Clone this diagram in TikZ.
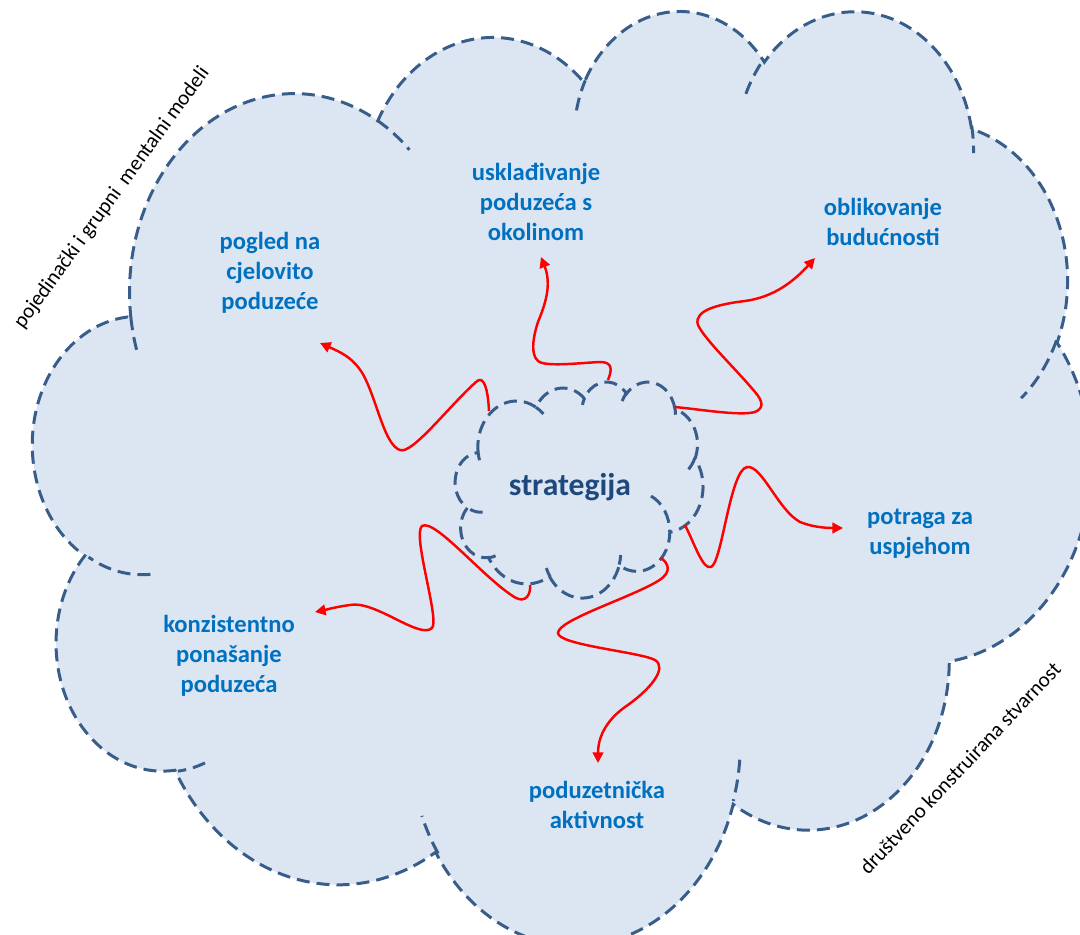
\documentclass[tikz,border=0pt]{standalone}
\usepackage{fontspec}
\setmainfont{Carlito}
\usetikzlibrary{arrows.meta}

\newlength{\du}
\setlength{\du}{0.02cm}

\definecolor{cloudfill}{RGB}{220,230,242}
\definecolor{cloudedge}{RGB}{56,93,138}
\definecolor{goalblue}{RGB}{0,112,192}
\definecolor{stratblue}{RGB}{31,73,125}

\tikzset{
  cloudline/.style={draw=cloudedge, line width=1.7pt, dash pattern=on 7.4pt off 4pt},
  aim/.style={draw=red, line width=1.4pt, -{Triangle[length=6pt,width=6pt]}},
  goal/.style={text=goalblue, font=\fontsize{14}{17}\selectfont\bfseries, align=center, inner sep=0pt},
  frame/.style={font=\fontsize{12}{14}\selectfont, inner sep=0pt}
}

% cloud outline, units of 1/432 of the box
\newcommand{\cloudoutline}{(39.00,143.70)
  arc[x radius=67.53, y radius=91.90, start angle=-187.75, end angle=-59.63]
  arc[x radius=53.33, y radius=72.67, start angle=-152.03, end angle=-45.43]
  arc[x radius=43.65, y radius=59.45, start angle=-153.48, end angle=-37.30]
  arc[x radius=48.57, y radius=65.95, start angle=-139.72, end angle=-10.21]
  arc[x radius=53.33, y radius=72.73, start angle=-74.77, end angle=23.21]
  arc[x radius=67.75, y radius=92.20, start angle=-37.53, end angle=81.86]
  arc[x radius=57.85, y radius=78.67, start angle=0.46, end angle=121.98]
  arc[x radius=67.52, y radius=92.15, start angle=16.85, end angle=147.99]
  arc[x radius=77.20, y radius=105.43, start angle=58.98, end angle=150.17]
  arc[x radius=43.60, y radius=59.18, start angle=83.31, end angle=223.10]
  arc[x radius=43.45, y radius=59.45, start angle=120.35, end angle=264.11]
  -- cycle}
% inner arcs of the cloud
\newcommand{\cloudhooks}{%
  (46.93,261.77) arc[x radius=43.45, y radius=59.45, start angle=85.55, end angle=120.35]
  (69.28,348.99) arc[x radius=43.60, y radius=59.18, start angle=68.23, end angle=83.31]
  (164.78,390.90) arc[x radius=67.52, y radius=92.15, start angle=146.24, end angle=158.47]
  (288.27,347.51) arc[x radius=67.52, y radius=92.15, start angle=4.74, end angle=16.84]
  (417.98,153.54) arc[x radius=53.33, y radius=72.73, start angle=23.21, end angle=49.63]
  (383.24,54.26) arc[x radius=48.57, y radius=65.95, start angle=-10.21, end angle=0.82]
  (290.78,39.52) arc[x radius=48.57, y radius=65.95, start angle=-156.28, end angle=-139.72]
  (221.41,47.20) arc[x radius=43.65, y radius=59.45, start angle=-167.73, end angle=-153.48]
  (140.00,51.92) arc[x radius=67.53, y radius=91.90, start angle=-59.63, end angle=-45.71]
  (41.27,157.89) arc[x radius=67.53, y radius=91.90, start angle=163.19, end angle=172.25]}
\newcommand{\cloudhookfive}{%
  (341.29,229.54) arc[x radius=57.85, y radius=78.67, start angle=-64.03, end angle=0.46]}

\begin{document}
\begin{tikzpicture}[x=1\du, y=-1\du]
  \useasboundingbox (0,0) rectangle (1080,935);
  \fill[white] (0,0) rectangle (1080,935);
  \clip (0,0) rectangle (1080,935);

  % big cloud
  \begin{scope}[shift={(35.8,8.4)}, x=2.442\du, y=-2.162\du]
    \path[cloudline, fill=cloudfill] \cloudoutline;
    \draw[cloudline] \cloudhooks;
  \end{scope}

  % small cloud
  \begin{scope}[shift={(455.9,381.3)}, x=0.5718\du, y=-0.5\du]
    \path[cloudline, fill=cloudfill] \cloudoutline;
    \draw[cloudline] \cloudhooks \cloudhookfive;
  \end{scope}

  \node[text=stratblue, font=\fontsize{18}{22}\selectfont\bfseries, inner sep=0pt] (strat) at (570,487) {strategija};

  \node[goal] (pogled) at (270,273) {pogled na\\cjelovito\\poduzeće};
  \node[goal] (uskl) at (536,202) {usklađivanje\\poduzeća s\\okolinom};
  \node[goal] (oblik) at (883,222) {oblikovanje\\budućnosti};
  \node[goal] (potraga) at (920,534) {potraga za\\uspjehom};
  \node[goal] (konzist) at (229,656) {konzistentno\\ponašanje\\poduzeća};
  \node[goal] (poduz) at (597,805) {poduzetnička\\aktivnost};

  \node[frame, rotate=54] (mental) at (112,198) {pojedinački i grupni\ \ mentalni modeli};
  \node[frame, rotate=46.7] (drustvo) at (960,768) {društveno konstruirana stvarnost};

  % arrow ends
  \coordinate (sA) at (489,411); \coordinate (tA) at (320,343);
  \coordinate (sB) at (608,380); \coordinate (tB) at (541,257);
  \coordinate (sC) at (675,407); \coordinate (tC) at (815,258);
  \coordinate (sD) at (685,525); \coordinate (tD) at (843,528);
  \coordinate (sE) at (661,558); \coordinate (tE) at (598,763);
  \coordinate (sF) at (530,585); \coordinate (tF) at (315,612);

  \draw[aim] (sA) .. controls (488,390) and (484,374) .. (476,382)
    .. controls (450,405) and (412,455) .. (400,450)
    .. controls (385,445) and (378,405) .. (365,378)
    .. controls (355,358) and (340,352) .. (tA);
  \draw[aim] (sB) .. controls (612,370) and (613,362) .. (600,362)
    .. controls (580,363) and (555,366) .. (542,363)
    .. controls (530,360) and (532,340) .. (538,322)
    .. controls (545,305) and (552,285) .. (tB);
  \draw[aim] (sC) .. controls (705,410) and (740,416) .. (755,412)
    .. controls (765,408) and (762,400) .. (755,392)
    .. controls (735,368) and (705,340) .. (698,325)
    .. controls (693,310) and (720,304) .. (745,301)
    .. controls (775,297) and (795,280) .. (tC);
  \draw[aim] (sD) .. controls (695,545) and (703,570) .. (711,567)
    .. controls (722,563) and (730,470) .. (747,467)
    .. controls (762,465) and (778,510) .. (800,522)
    .. controls (815,528) and (830,528) .. (tD);
  \draw[aim] (sE) .. controls (668,563) and (673,572) .. (658,581)
    .. controls (630,598) and (558,620) .. (558,633)
    .. controls (558,645) and (640,652) .. (655,660)
    .. controls (668,668) and (650,690) .. (625,707)
    .. controls (600,725) and (598,745) .. (tE);
  \draw[aim] (sF) .. controls (531,594) and (526,603) .. (516,598)
    .. controls (485,580) and (435,518) .. (422,526)
    .. controls (412,535) and (440,620) .. (432,628)
    .. controls (420,640) and (375,600) .. (350,605)
    .. controls (335,607) and (325,610) .. (tF);
\end{tikzpicture}
\end{document}
